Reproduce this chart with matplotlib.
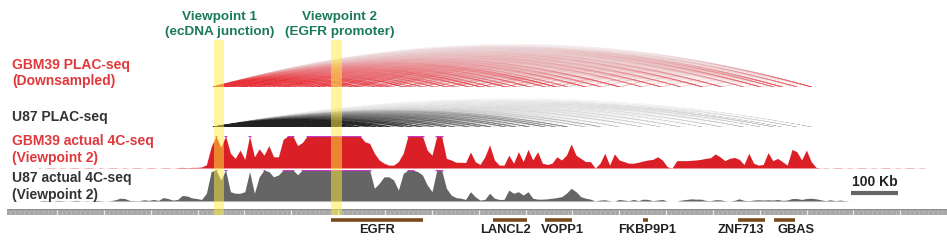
import numpy as np
import matplotlib
matplotlib.use("Agg")
import matplotlib.pyplot as plt
from matplotlib.collections import LineCollection
from matplotlib.transforms import blended_transform_factory
from matplotlib.colors import to_rgb

# ---------------- data ----------------
# genomic axis (kb, relative to region start)
PX_PER_KB = 0.4685
X0_PX = 10.15

# 4C-seq signal bins (kb positions of bin centres) and values (% of track max, 100 = clipped)
BIN_START_KB = (38.4 - X0_PX) / PX_PER_KB
BIN_STEP_KB = 4.8 / PX_PER_KB

gbm39_4c = [
    1, 0, 1, 1, 0, 1, 0, 1, 1, 0, 1, 1, 0, 1, 0, 1, 1, 0, 1, 0,
    1, 1, 0, 1, 1, 0, 1, 1, 0, 1, 2, 1, 2, 2,
    3, 10, 67, 100, 65, 100, 46, 30, 56, 27,
    100, 35, 60, 40, 70, 35, 35, 90, 100, 100,
    70, 80, 100, 100, 100, 100, 100, 100, 100, 100,
    100, 100, 100, 100, 82, 77, 46, 25, 15, 9,
    9, 20, 46, 100, 100, 100, 100, 56, 40, 100,
    100, 30, 25, 18, 18, 17, 50, 20, 11, 35,
    72, 25, 9, 9, 40, 15, 51, 20, 58, 25,
    51, 15, 11, 15, 35, 25, 40, 75, 40, 30,
    20, 20, 0, 15, 46, 9, 44, 25, 20, 15,
    15, 18, 22, 25, 27, 35, 25, 4, 0, 23,
    23, 23, 24, 25, 27, 30, 32, 44, 35, 23,
    30, 33, 27, 11, 46, 15, 9, 11, 48, 23,
    30, 20, 9, 58, 51, 25, 56, 20, 2, 0,
    1, 0, 1, 1, 0, 1, 0, 1, 1, 0, 1, 0, 1, 1, 0, 1, 0, 1, 1, 0, 1, 0, 0, 0,
]
u87_4c = [
    0, 2, 1, 0, 2, 1, 0, 1, 2, 0, 1, 0, 2, 1, 0, 1, 4, 9, 8, 2,
    1, 1, 4, 2, 5, 2, 11, 8, 3, 5, 18, 16, 10, 8,
    5, 25, 95, 100, 68, 100, 30, 25, 25, 30,
    95, 25, 78, 100, 95, 78, 84, 100, 100, 100,
    85, 100, 100, 100, 100, 100, 100, 100, 100, 100,
    100, 100, 100, 100, 100, 100, 41, 57, 78, 78,
    68, 35, 89, 100, 100, 95, 84, 52, 30, 100,
    100, 41, 19, 11, 9, 5, 30, 14, 3, 5,
    25, 9, 5, 5, 35, 25, 30, 19, 30, 9,
    6, 6, 7, 9, 11, 14, 25, 41, 30, 14,
    9, 6, 0, 3, 4, 1, 0, 5, 3, 1,
    5, 1, 6, 5, 1, 3, 5, 0, 0, 0,
    3, 5, 7, 6, 6, 2, 1, 4, 4, 1,
    0, 2, 7, 2, 1, 3, 4, 3, 4, 3,
    5, 2, 3, 8, 8, 5, 8, 9, 7, 4,
    1, 4, 1, 3, 1, 0, 0, 0, 0, 0, 0, 0, 0, 0, 0, 0, 0, 0, 0, 0, 0, 0, 0, 0,
]

# PLAC-seq interaction anchors (kb) and relative anchor strengths
plac_anchors = [433, 437, 441, 449, 456, 462, 468, 477, 487, 493,
                499, 510, 521, 528, 536, 548, 559, 571, 581, 590,
                602, 614, 627, 641, 652, 663, 677, 690, 702, 719,
                732, 745, 768, 781, 797, 812, 840, 858, 880, 905,
                931, 950, 979, 1004, 1026, 1058, 1080, 1109, 1142, 1165,
                1190, 1228, 1262, 1301, 1349, 1390, 1432, 1478, 1519, 1566,
                1602, 1630, 1648, 1680, 1711]
gbm39_weights = [1.0, 0.7, 0.9, 0.6, 0.8, 0.5, 0.9, 0.6, 0.8, 0.5,
                 0.7, 0.9, 0.6, 0.8, 0.5, 0.9, 0.6, 0.7, 0.8, 0.6,
                 0.9, 0.5, 0.7, 0.8, 0.6, 0.9, 0.5, 1.0, 0.7, 0.6,
                 0.8, 0.9, 0.5, 0.7, 0.8, 0.6, 0.9, 0.5, 0.7, 0.6,
                 0.8, 0.5, 0.7, 0.9, 0.6, 0.8, 0.5, 0.7, 0.6, 0.9,
                 0.5, 0.7, 0.6, 0.8, 0.5, 0.7, 0.6, 0.8, 0.7, 0.5,
                 0.8, 0.6, 0.9, 0.7, 1.0]
u87_weights = [1.0, 0.8, 1.0, 0.7, 0.9, 0.8, 1.0, 0.7, 0.9, 0.8,
               1.0, 0.7, 0.9, 0.8, 1.0, 0.9, 0.7, 0.9, 0.8, 0.7,
               0.9, 0.8, 0.7, 0.8, 0.9, 0.7, 0.8, 1.0, 0.8, 0.7,
               0.8, 0.7, 0.6, 0.7, 0.6, 0.65, 0.6, 0.55, 0.6, 0.4,
               0.45, 0.35, 0.4, 0.35, 0.4, 0.3, 0.35, 0.3, 0.3, 0.25,
               0.3, 0.15, 0.18, 0.12, 0.15, 0.12, 0.15, 0.12, 0.15, 0.18,
               0.15, 0.2, 0.15, 0.2, 0.15]

# viewpoints (kb)
vp_names = ["Viewpoint 1\n(ecDNA junction)", "Viewpoint 2\n(EGFR promoter)"]
vp_start = [435.1, 684.8]
vp_end = [456.5, 708.3]
vp_label_kb = [447, 703]

# genes (kb)
gene_names = ["EGFR", "LANCL2", "VOPP1", "FKBP9P1", "ZNF713", "GBAS"]
gene_start = [684.8, 1030.6, 1141.6, 1350.8, 1553.6, 1630.4]
gene_end = [881.2, 1103.2, 1199.2, 1361.5, 1611.2, 1675.2]
gene_label_kb = [783, 1058, 1178, 1359, 1560, 1677]

ruler_start_kb = -7
scale_bar_kb = (1795, 1895)
scale_bar_label = "100 Kb"

track_labels = [
    ("GBM39 PLAC-seq\n(Downsampled)", "red"),
    ("U87 PLAC-seq", "dark"),
    ("GBM39 actual 4C-seq\n(Viewpoint 2)", "red"),
    ("U87 actual 4C-seq\n(Viewpoint 2)", "dark"),
]

# ---------------- style ----------------
W, H = 947, 241
XLIM = ((0 - X0_PX) / PX_PER_KB, (W - X0_PX) / PX_PER_KB)
FONT = "Liberation Sans"
RED_TXT = "#e0383c"
DARK_TXT = "#333333"
GREEN_TXT = "#1b7a5a"
RED_FILL = "#da1f26"
GRAY_FILL = "#656565"
CLIP_COL = "#c03cc8"

fig = plt.figure(figsize=(W / 100, H / 100), dpi=100)


def add_ax(y_top, y_bot):
    ax = fig.add_axes([0, 1 - y_bot / H, 1, (y_bot - y_top) / H])
    ax.set_xlim(*XLIM)
    ax.axis("off")
    ax.patch.set_alpha(0)
    return ax


def draw_arcs(ax, anchors, weights, rgb, base_alpha, lw, decay):
    a = np.asarray(anchors, float)
    w = np.asarray(weights, float)
    maxspan = a.max() - a.min()
    t = np.linspace(-1, 1, 61)
    segs, cols = [], []
    for i in range(len(a)):
        for j in range(i + 1, len(a)):
            frac = (a[j] - a[i]) / maxspan
            c = (a[i] + a[j]) / 2
            hw = (a[j] - a[i]) / 2
            xs = c + hw * t
            ys = frac * (1 - t ** 2)
            segs.append(np.column_stack([xs, ys]))
            alpha = base_alpha * w[i] * w[j] * (1 - decay * frac)
            cols.append((*rgb, min(1.0, alpha)))
    ax.add_collection(LineCollection(segs, colors=cols, linewidths=lw))
    ax.set_ylim(0, 1)


def draw_4c(ax, vals, color):
    v = np.asarray(vals, float)
    x = BIN_START_KB + BIN_STEP_KB * np.arange(len(v))
    ax.fill_between(x, 0, np.minimum(v, 100), color=color, lw=0)
    clipped = v >= 100
    i = 0
    while i < len(v):
        if clipped[i]:
            j = i
            while j + 1 < len(v) and clipped[j + 1]:
                j += 1
            ax.hlines(100, x[i] - 0.3 * BIN_STEP_KB, x[j] + 0.3 * BIN_STEP_KB,
                      color=CLIP_COL, lw=1.0)
            i = j + 1
        else:
            i += 1
    ax.set_ylim(0, 100)


# PLAC-seq arcs
ax_a1 = add_ax(44, 87)
draw_arcs(ax_a1, plac_anchors, gbm39_weights, to_rgb("#e8303a"), 0.11, 0.45, 0.8)
ax_a2 = add_ax(98, 127)
draw_arcs(ax_a2, plac_anchors, u87_weights, to_rgb("#222222"), 0.13, 0.45, 0.8)

# 4C tracks
ax_c1 = add_ax(136, 168)
draw_4c(ax_c1, gbm39_4c, RED_FILL)
ax_c2 = add_ax(170, 201)
ax_c2.axhline(0, color="#dddddd", lw=0.8, zorder=0)
draw_4c(ax_c2, u87_4c, GRAY_FILL)

# scale bar
ax_sb = add_ax(176, 196)
ax_sb.set_ylim(0, 1)
ax_sb.hlines(0.15, scale_bar_kb[0], scale_bar_kb[1], color="#666666", lw=3)
ax_sb.text(np.mean(scale_bar_kb), 0.72, scale_bar_label, ha="center", va="center",
           fontsize=10, fontweight="bold", family=FONT, color="#222222")

# ruler
ax_r = add_ax(208.5, 215)
ax_r.set_ylim(0, 1)
ax_r.axvspan(ruler_start_kb, XLIM[1], ymin=0, ymax=1, color="#a8a8a8", lw=0)
ax_r.axvspan(ruler_start_kb, XLIM[1], ymin=0.72, ymax=1, color="#8a8a8a", lw=0)
minor = np.arange(0, XLIM[1], 10)
ax_r.vlines(minor, 0.1, 0.6, color="#c6c6c6", lw=0.5)
major = np.arange(100, XLIM[1], 100)
ax_r.vlines(major, 0.0, 0.72, color="#ececec", lw=0.9)

# genes
ax_g = add_ax(216, 241)
ax_g.set_ylim(0, 1)
ax_g.hlines([0.84] * len(gene_names), gene_start, gene_end, color="#7a4a1e", lw=2.6)
for name, xk in zip(gene_names, gene_label_kb):
    ax_g.text(xk, 0.44, name, ha="center", va="center", fontsize=9.3,
              fontweight="bold", family=FONT, color="#222222")

# viewpoint highlight (on top)
ax_v = add_ax(39.5, 214.5)
ax_v.set_ylim(0, 1)
for s, e in zip(vp_start, vp_end):
    ax_v.axvspan(s, e, color="#ffec3a", alpha=0.5, lw=0)
tr = blended_transform_factory(ax_v.transData, fig.transFigure)
for name, xk in zip(vp_names, vp_label_kb):
    fig.text(xk, 1 - 24.5 / H, name, transform=tr, ha="center", va="center",
             fontsize=9.7, fontweight="bold", family=FONT, color=GREEN_TXT,
             linespacing=1.35)

# track labels
label_y = [73, 117, 149.5, 186.5]
for (txt, c), y in zip(track_labels, label_y):
    fig.text(12 / W, 1 - y / H, txt, ha="left", va="center", fontsize=10,
             fontweight="bold", family=FONT,
             color=RED_TXT if c == "red" else DARK_TXT, linespacing=1.25)

fig.savefig("out.png", dpi=100)
